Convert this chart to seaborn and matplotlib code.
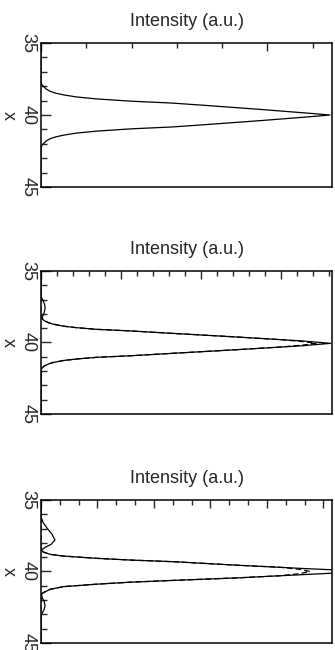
#!/usr/bin/env python3
"""
plot.py - three stacked intensity profiles along x (rotated layout)
"""

import pandas as pd
import matplotlib
matplotlib.use('Agg')
import matplotlib.pyplot as plt
from matplotlib.ticker import MultipleLocator
import seaborn as sns

# Panel 1: single solid profile (intensity normalised to the axis width)
p1_x = [35.0, 37.7, 37.9, 38.0, 38.2, 38.35, 38.48, 38.6, 38.74, 38.88, 39.04,
        39.17, 39.31, 39.62, 39.9, 40.0, 40.1, 40.38, 40.69, 40.83, 40.96,
        41.12, 41.26, 41.4, 41.52, 41.65, 41.8, 42.0, 42.1, 42.3, 45.0]
p1_i = [0.0, 0.0, 0.003, 0.008, 0.018, 0.031, 0.05, 0.077, 0.12, 0.19, 0.31,
        0.45, 0.55, 0.76, 0.935, 0.993, 0.935, 0.76, 0.55, 0.45, 0.31,
        0.19, 0.12, 0.077, 0.05, 0.031, 0.018, 0.008, 0.003, 0.0, 0.0]

# Panel 2: solid profile with a weak side lobe, dashed profile with lower peak
p2_x = [35.0, 36.8, 37.1, 37.4, 37.6, 37.9, 38.2, 38.35, 38.46, 38.61, 38.71,
        38.86, 38.96, 39.08, 39.19, 39.36, 39.615, 39.895, 40.06, 40.225,
        40.505, 40.76, 40.93, 41.04, 41.16, 41.26, 41.41, 41.51, 41.66, 41.78,
        41.91, 45.0]
p2_i = [0.0, 0.0, 0.008, 0.013, 0.014, 0.011, 0.005, 0.004, 0.01, 0.025, 0.04,
        0.077, 0.12, 0.19, 0.306, 0.45, 0.672, 0.9, 0.995, 0.9,
        0.672, 0.45, 0.306, 0.19, 0.12, 0.077, 0.04, 0.025, 0.01, 0.004,
        0.0, 0.0]
p2d_x = [35.0, 38.21, 38.46, 38.61, 38.71, 38.86, 38.96, 39.08, 39.19, 39.36,
         39.615, 39.81, 39.94, 40.06, 40.18, 40.31, 40.505, 40.76, 40.93,
         41.04, 41.16, 41.26, 41.41, 41.51, 41.66, 41.78, 41.91, 45.0]
p2d_i = [0.0, 0.0, 0.01, 0.025, 0.04, 0.077, 0.12, 0.19, 0.306, 0.45,
         0.672, 0.83, 0.9, 0.945, 0.9, 0.83, 0.672, 0.45, 0.306,
         0.19, 0.12, 0.077, 0.04, 0.025, 0.01, 0.004, 0.0, 0.0]

# Panel 3: stronger side lobes, solid peak runs past the axis
p3_x = [35.0, 36.2, 36.6, 37.0, 37.4, 37.8, 38.1, 38.3, 38.5, 38.64, 38.8,
        38.92, 39.08, 39.2, 39.32, 39.56, 39.79, 39.9, 40.0, 40.1, 40.22,
        40.45, 40.62, 40.75, 40.89, 41.06, 41.25, 41.48, 41.6, 41.83, 42.1,
        42.4, 42.7, 42.98, 43.2, 45.0]
p3_i = [0.0, 0.0, 0.008, 0.022, 0.038, 0.048, 0.035, 0.015, 0.002, 0.008, 0.031,
        0.077, 0.19, 0.306, 0.46, 0.672, 0.9, 1.02, 1.12, 1.02, 0.9,
        0.672, 0.46, 0.306, 0.19, 0.077, 0.031, 0.008, 0.002, 0.004, 0.011,
        0.014, 0.01, 0.002, 0.0, 0.0]
p3d_x = [35.0, 38.5, 38.64, 38.8, 38.92, 39.08, 39.2, 39.32, 39.56, 39.7,
         39.85, 40.0, 40.15, 40.3, 40.45, 40.62, 40.75, 40.89, 41.06, 41.25,
         41.48, 41.6, 45.0]
p3d_i = [0.0, 0.0, 0.008, 0.031, 0.077, 0.19, 0.306, 0.46, 0.672, 0.82,
         0.89, 0.924, 0.89, 0.82, 0.672, 0.46, 0.306, 0.19, 0.077, 0.031,
         0.008, 0.0, 0.0]

# top-axis tick spacing (minor, major) per panel, in axis-width units
TICKS = [(0.1555, 0.7775), (0.055, 0.275), (0.0647, 0.1941)]


def make_frame(curves):
    rows = []
    for kind, xs, ins in curves:
        for xv, iv in zip(xs, ins):
            rows.append({'x': xv, 'intensity': iv, 'kind': kind})
    return pd.DataFrame(rows)


def main():
    sns.set_style("ticks")
    plt.rcParams['font.family'] = ['Liberation Sans', 'DejaVu Sans']
    plt.rcParams['font.size'] = 13

    panels = [
        make_frame([('solid', p1_x, p1_i)]),
        make_frame([('solid', p2_x, p2_i), ('dashed', p2d_x, p2d_i)]),
        make_frame([('solid', p3_x, p3_i), ('dashed', p3d_x, p3d_i)]),
    ]

    fig = plt.figure(figsize=(3.35, 6.5), dpi=100)
    boxes = [(0.1224, 0.7123, 0.8687, 0.2215),
             (0.1224, 0.3631, 0.8687, 0.2200),
             (0.1224, 0.0108, 0.8687, 0.2200)]

    for k, (df, box) in enumerate(zip(panels, boxes)):
        ax = fig.add_axes(box)
        sns.lineplot(data=df, x='intensity', y='x', style='kind',
                     dashes={'solid': '', 'dashed': (4.5, 2.5)},
                     color='black', linewidth=0.9, estimator=None,
                     orient='y', sort=True, legend=False, ax=ax)
        ax.set_xlim(0, 1.0)
        ax.set_ylim(45, 35)

        minor, major = TICKS[k]
        ax.xaxis.set_major_locator(MultipleLocator(major))
        ax.xaxis.set_minor_locator(MultipleLocator(minor))
        ax.yaxis.set_major_locator(MultipleLocator(5))
        ax.yaxis.set_minor_locator(MultipleLocator(1))
        ax.xaxis.set_ticks_position('top')
        ax.tick_params(axis='x', which='both', direction='in', top=True,
                       bottom=False, labeltop=False, labelbottom=False)
        ax.tick_params(axis='x', which='major', length=6, width=1)
        ax.tick_params(axis='x', which='minor', length=3.5, width=1)
        ax.tick_params(axis='y', which='both', direction='in', left=True,
                       right=False, pad=3)
        ax.tick_params(axis='y', which='major', length=7, width=1)
        ax.tick_params(axis='y', which='minor', length=4, width=1)
        for lab in ax.get_yticklabels():
            lab.set_rotation(-90)
            lab.set_va('center')
            lab.set_ha('right')
        for sp in ax.spines.values():
            sp.set_linewidth(1.1)
            sp.set_color('black')

        ax.set_xlabel('')
        ax.set_ylabel('x', rotation=-90, va='center', labelpad=8)
        ax.set_title('Intensity (a.u.)', fontsize=13, pad=12)

    fig.savefig('out.png', dpi=100, facecolor='white')
    plt.close(fig)


if __name__ == "__main__":
    main()
